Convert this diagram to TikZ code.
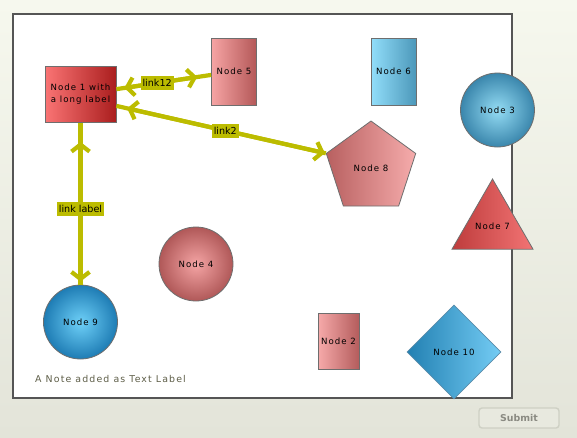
\documentclass[tikz,border=0pt]{standalone}
\usepackage{fontspec}
\setmainfont{DejaVu Sans}
\newfontfamily\lblfont[LetterSpace=12]{DejaVu Sans}
\usetikzlibrary{shapes.geometric,arrows.meta}
\definecolor{bgtop}{HTML}{F6F8EE}
\definecolor{bgbot}{HTML}{E3E4D9}
\definecolor{frame}{HTML}{555555}
\definecolor{olive}{HTML}{BCBC00}
\definecolor{nborder}{HTML}{6E6E6E}
\definecolor{notecol}{HTML}{5E5E48}
\tikzset{
  nd/.style={draw=nborder, line width=0.8pt, inner sep=0pt, font=\lblfont\fontsize{8.6}{12}\selectfont, align=center, text=black},
  link/.style={draw=olive, line width=4.2pt},
  tips/.style={draw=olive, line width=4.2pt, {Straight Barb[length=7pt,width=18pt]}-{Straight Barb[length=7pt,width=18pt]}},
  lbl/.style={fill=olive, inner sep=2pt, text=black, font=\fontsize{9.6}{10}\selectfont, minimum height=14pt},
  ball/.style={nd, circle, minimum size=74pt, shading=radial},
}
\begin{document}
\begin{tikzpicture}[x=1pt,y=-1pt]
\fill[top color=bgtop, bottom color=bgbot] (0,0) rectangle (577,437);
\useasboundingbox (0,0) rectangle (577,437);
\draw[frame, line width=1.8pt, fill=white] (13,14) rectangle (512,398);

% nodes
\node[nd, rectangle, minimum width=71pt, minimum height=56pt, left color={rgb,255:red,250;green,116;blue,116}, right color={rgb,255:red,170;green,30;blue,30}] (n1) at (80.5,94.5) {Node 1 with\\a long label};
\node[nd, rectangle, minimum width=45pt, minimum height=67pt, left color={rgb,255:red,246;green,164;blue,164}, right color={rgb,255:red,180;green,88;blue,88}] (n5) at (234,71.5) {Node 5};
\node[nd, rectangle, minimum width=45pt, minimum height=67pt, left color={rgb,255:red,146;green,222;blue,250}, right color={rgb,255:red,76;green,152;blue,186}] (n6) at (393.5,71.5) {Node 6};
\node[nd, rectangle, minimum width=41pt, minimum height=56pt, left color={rgb,255:red,246;green,170;blue,170}, right color={rgb,255:red,180;green,92;blue,92}] (n2) at (338.5,341) {Node 2};
\node[ball, inner color={rgb,255:red,148;green,220;blue,244}, outer color={rgb,255:red,58;green,134;blue,172}] (n3) at (497.5,110) {Node 3};
\node[ball, inner color={rgb,255:red,244;green,164;blue,164}, outer color={rgb,255:red,176;green,88;blue,88}] (n4) at (196,264) {Node 4};
\node[ball, inner color={rgb,255:red,110;green,208;blue,248}, outer color={rgb,255:red,30;green,124;blue,180}] (n9) at (80.5,322) {Node 9};
\node[nd, regular polygon, regular polygon sides=5, minimum size=94pt, left color={rgb,255:red,184;green,96;blue,96}, right color={rgb,255:red,246;green,172;blue,172}] (n8) at (371,168) {\makebox[0pt]{Node 8}};
\node[nd, regular polygon, regular polygon sides=3, minimum size=93.6pt, left color={rgb,255:red,190;green,60;blue,60}, right color={rgb,255:red,242;green,116;blue,116}] (n7) at (492.5,225.8) {\makebox[0pt]{Node 7}};
\node[nd, diamond, minimum width=94pt, minimum height=94pt, draw={rgb,255:red,90;green,140;blue,170}, left color={rgb,255:red,34;green,128;blue,178}, right color={rgb,255:red,116;green,204;blue,244}] (n10) at (454,352) {\makebox[0pt]{Node 10}};

% connectors
\coordinate (n1a) at ([yshift=17pt]n1.south east);
\draw[link] (n1) -- node[lbl, pos=0.43] (l12) {link12} (n5);
\draw[tips, shorten <=8pt, shorten >=14pt] (n1) -- (n5);
\draw[link] (n1a) -- node[lbl, pos=0.52] (l2) {link2} (n8.corner 2);
\draw[tips, shorten <=11pt, shorten >=1pt] (n1a) -- (n8.corner 2);
\draw[link] (n1) -- node[lbl, pos=0.53] (ll) {link label} (n9);
\draw[tips, shorten <=19pt, shorten >=3pt] (n1) -- (n9);
\node[lbl] at (l12) {link12};
\node[lbl] at (l2) {link2};
\node[lbl] at (ll) {link label};

% note
\node[anchor=west, inner sep=0pt, text=notecol, font=\lblfont\fontsize{9.4}{11}\selectfont] (note) at (35,379) {A Note added as Text Label};

% submit button
\node[draw={rgb,255:red,206;green,208;blue,196}, line width=1.4pt, rounded corners=3pt, fill={rgb,255:red,232;green,233;blue,223}, minimum width=80pt, minimum height=20pt, text={rgb,255:red,138;green,138;blue,130}, font=\bfseries\fontsize{9.4}{10}\selectfont] (submit) at (519,418) {Submit};
\end{tikzpicture}
\end{document}
